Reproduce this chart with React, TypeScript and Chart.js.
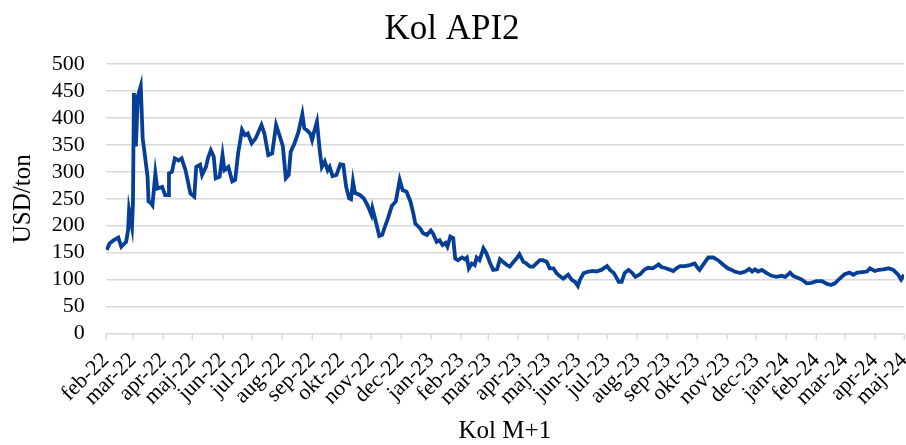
import { useEffect, useRef } from 'react';
import { Chart, registerables } from 'chart.js';

Chart.register(...registerables);

const monthLabels = [
  'feb-22', 'mar-22', 'apr-22', 'maj-22', 'jun-22', 'jul-22', 'aug-22', 'sep-22', 'okt-22', 'nov-22', 'dec-22',
  'jan-23', 'feb-23', 'mar-23', 'apr-23', 'maj-23', 'jun-23', 'jul-23', 'aug-23', 'sep-23', 'okt-23', 'nov-23', 'dec-23',
  'jan-24', 'feb-24', 'mar-24', 'apr-24', 'maj-24',
];

// days since 2022-02-01
const dayOffsets = [
  1, 4, 8, 13, 16, 21, 23, 24, 27, 28, 29, 31, 33, 36, 38, 40, 43, 44, 46, 48,
  51, 53, 58, 61, 64, 65, 68, 71, 75, 78, 82, 87, 91, 93, 97, 99, 103, 105, 108, 111,
  113, 117, 120, 122, 126, 130, 133, 136, 140, 143, 146, 150, 154, 160, 163, 167, 171, 175, 179, 182,
  185, 188, 190, 194, 198, 202, 204, 206, 210, 212, 214, 217, 220, 222, 225, 228, 230, 233, 237, 241,
  244, 247, 250, 252, 254, 256, 261, 265, 269, 273, 274, 277, 281, 284, 287, 290, 294, 298, 302, 305,
  309, 313, 316, 318, 323, 326, 330, 334, 336, 340, 343, 346, 349, 351, 354, 357, 359, 362, 366, 369,
  371, 373, 376, 379, 381, 384, 388, 391, 395, 398, 402, 405, 408, 412, 415, 419, 422, 425, 429, 432,
  436, 439, 443, 446, 449, 453, 456, 460, 463, 466, 470, 475, 479, 482, 485, 487, 491, 496, 501, 504,
  509, 515, 518, 522, 527, 530, 533, 537, 541, 544, 549, 553, 557, 562, 568, 571, 574, 580, 583, 587,
  590, 595, 600, 605, 608, 610, 615, 619, 624, 629, 634, 639, 643, 646, 652, 657, 661, 664, 667, 670,
  674, 679, 684, 689, 694, 698, 703, 706, 710, 715, 720, 725, 730, 736, 741, 745, 749, 754, 759, 764,
  768, 772, 777, 782, 785, 790, 794, 799, 804, 809, 814, 817, 820,
];

// USD/ton
const prices = [
  155, 167, 173, 178, 161, 170, 192, 229, 198, 241, 446, 347, 440, 459, 362, 334, 291, 245, 243, 238,
  297, 269, 272, 257, 257, 297, 300, 325, 321, 325, 303, 260, 254, 309, 313, 294, 309, 325, 340, 328,
  288, 291, 331, 303, 309, 282, 285, 334, 378, 368, 371, 353, 362, 387, 371, 331, 334, 387, 365, 347,
  288, 294, 337, 353, 374, 407, 381, 378, 371, 359, 374, 393, 337, 309, 319, 303, 309, 292, 294, 314,
  313, 272, 251, 249, 282, 261, 257, 251, 238, 220, 232, 211, 181, 183, 199, 214, 237, 245, 285, 266,
  263, 245, 223, 204, 195, 186, 183, 191, 186, 170, 173, 164, 168, 161, 180, 177, 139, 136, 141, 138,
  141, 121, 130, 127, 141, 136, 158, 149, 130, 118, 119, 138, 133, 127, 124, 133, 139, 147, 133, 130,
  124, 124, 131, 136, 136, 133, 121, 121, 112, 107, 102, 109, 99, 96, 88, 99, 112, 115, 116, 115,
  118, 125, 118, 112, 96, 96, 112, 118, 112, 105, 110, 118, 122, 121, 128, 123, 122, 118, 116, 122,
  125, 125, 127, 130, 122, 118, 131, 141, 141, 136, 128, 121, 118, 115, 112, 115, 120, 115, 119, 115,
  118, 112, 107, 105, 107, 105, 113, 107, 104, 100, 93, 94, 97, 97, 92, 90, 93, 102, 110, 113,
  109, 113, 114, 115, 121, 116, 118, 119, 121, 118, 109, 100, 109,
];

const FONT = 'Liberation Serif, Times New Roman, serif';
const GRID = '#d9d9d9';

export default function App() {
  const ref = useRef<HTMLCanvasElement>(null);

  useEffect(() => {
    document.body.style.margin = '0';
    const start = Date.UTC(2022, 1, 1);
    const monthDays = monthLabels.map((_, i) => (Date.UTC(2022, 1 + i, 1) - start) / 86400000);

    // small tick marks under the category axis at each month start
    const monthTickMarks = {
      id: 'monthTickMarks',
      beforeDatasetsDraw(chart: any) {
        const xs = chart.scales.x;
        const ctx = chart.ctx;
        const y0 = chart.chartArea.bottom;
        ctx.save();
        ctx.strokeStyle = GRID;
        ctx.lineWidth = 1.5;
        monthDays.forEach((d) => {
          const px = Math.round(xs.getPixelForValue(d)) + 0.25;
          ctx.beginPath();
          ctx.moveTo(px, y0);
          ctx.lineTo(px, y0 + 6);
          ctx.stroke();
        });
        ctx.restore();
      },
    };

    const chart = new Chart(ref.current as HTMLCanvasElement, {
      type: 'line',
      data: {
        datasets: [
          {
            label: 'Kol M+1',
            data: dayOffsets.map((d, i) => ({ x: d, y: prices[i] })),
            borderColor: '#073f96',
            borderWidth: 3.8,
            pointRadius: 0,
            tension: 0,
            fill: false,
          },
        ],
      },
      plugins: [monthTickMarks],
      options: {
        animation: false,
        responsive: false,
        devicePixelRatio: 1,
        layout: { padding: { left: 0, right: 2, top: 0, bottom: 0 } },
        plugins: {
          legend: { display: false },
          tooltip: { enabled: false },
          title: {
            display: true,
            text: 'Kol API2',
            color: '#000',
            font: { family: FONT, size: 35, weight: 'normal', lineHeight: 1.2 },
            padding: { top: 9, bottom: 13 },
          },
        },
        scales: {
          x: {
            type: 'linear',
            min: 0,
            max: 820,
            afterBuildTicks: (s: any) => {
              s.ticks = monthDays.map((v) => ({ value: v }));
            },
            afterFit: (s: any) => {
              s.height = 111.5;
              s.paddingLeft = 0;
              s.paddingRight = 0;
            },
            ticks: {
              autoSkip: false,
              minRotation: 45,
              maxRotation: 45,
              padding: 8,
              color: '#000',
              font: { family: FONT, size: 22 },
              callback: (v: any) => {
                const idx = monthDays.indexOf(Number(v));
                return idx >= 0 ? monthLabels[idx] : '';
              },
            },
            grid: { display: false, drawOnChartArea: false, drawTicks: true, tickLength: 6 },
            border: { display: false },
            title: {
              display: true,
              text: 'Kol M+1',
              color: '#000',
              font: { family: FONT, size: 25, lineHeight: 1 },
              padding: { top: 0, bottom: 1 },
            },
          },
          y: {
            min: 0,
            max: 500,
            ticks: {
              stepSize: 50,
              autoSkip: false,
              padding: 21,
              color: '#000',
              font: { family: FONT, size: 22 },
            },
            afterFit: (s: any) => {
              s.width = 105.7;
            },
            grid: { color: GRID, lineWidth: 1.5, drawTicks: false },
            border: { display: false },
            title: {
              display: true,
              text: 'USD/ton',
              color: '#000',
              font: { family: FONT, size: 25 },
              padding: { top: 8, bottom: 0 },
            },
          },
        },
      },
    });
    return () => chart.destroy();
  }, []);

  return (
    <div style={{ width: 906, height: 445 }}>
      <canvas ref={ref} width={906} height={445} style={{ display: 'block' }} />
    </div>
  );
}
